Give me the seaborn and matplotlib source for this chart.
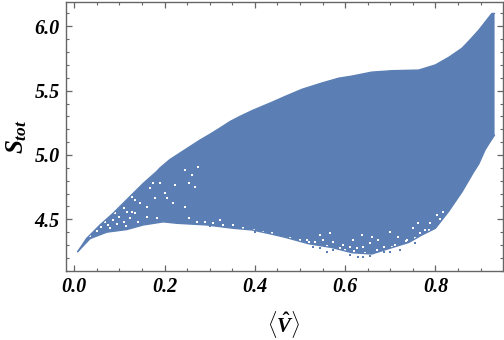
import numpy as np
import matplotlib
matplotlib.use("Agg")
import matplotlib.pyplot as plt
import seaborn as sns
from matplotlib.ticker import MultipleLocator

sns.set_theme(style="ticks")
plt.rcParams['font.family'] = ['Liberation Serif', 'DejaVu Serif']
plt.rcParams['mathtext.fontset'] = 'custom'
plt.rcParams['mathtext.rm'] = 'Liberation Serif:bold'
plt.rcParams['mathtext.it'] = 'Liberation Serif:italic:bold'
plt.rcParams['mathtext.bf'] = 'Liberation Serif:bold'

# upper and lower edge of the region
upper_x = [.0075, .027, .057, .086, .123, .153, .182, .19, .212, .234, .256, .278, .30, .323, .345, .367, .394, .438, .467,
           .504, .549, .586, .615, .659, .704, .763, .80, .83, .859, .878, .896, .925, .931]
upper_y = [4.248, 4.35, 4.456, 4.547, 4.676, 4.78, 4.87, 4.90, 4.965, 5.015, 5.065, 5.115, 5.16, 5.21, 5.26, 5.30, 5.345, 5.41, 5.455,
           5.51, 5.56, 5.597, 5.613, 5.644, 5.655, 5.66, 5.70, 5.76, 5.83, 5.90, 5.97, 6.10, 6.10]
lower_x = [.931, .918, .91, .896, .885, .859, .829, .80, .77, .741, .704, .659, .615, .571, .519, .467,
           .43, .394, .352, .293, .227, .197, .153, .116, .072, .035, .0075]
lower_y = [5.155, 5.085, 5.04, 4.93, 4.87, 4.714, 4.56, 4.43, 4.378, 4.32, 4.28, 4.23, 4.24, 4.28, 4.31, 4.36,
           4.39, 4.417, 4.43, 4.456, 4.469, 4.48, 4.456, 4.42, 4.40, 4.35, 4.248]

# gaps inside the point cloud
gap_x = [.101, .109, .116, .09, .098, .127, .134, .123, .109, .086, .127, .134, .146, .16, .175, .19, .168,
         .201, .179, .205, .219, .245, .223, .245, .26, .267, .253, .275, .16, .183, .253, .271, .068, .075,
         .515, .533, .552, .574, .589, .604, .626, .64, .655, .673, .637, .659, .685, .703, .722, .718, .736,
         .755, .751, .777, .788, .803, .817, .762, .699, .544, .566, .618, .596, .611,
         .29, .308, .323, .33, .352, .374, .397, .419, .437, .459, .478, .5,
         .05, .06, .08, .095, .115, .14, .035,
         .52, .54, .56, .58, .60, .62, .645, .67, .69, .71, .735, .745, .765, .785, .81]
gap_y = [4.611, 4.585, 4.559, 4.547, 4.52, 4.559, 4.547, 4.508, 4.481, 4.495, 4.676, 4.65, 4.624, 4.598, 4.78,
         4.78, 4.741, 4.702, 4.663, 4.663, 4.624, 4.598, 4.767, 4.883, 4.844, 4.753, 4.78, 4.909, 4.52, 4.508,
         4.508, 4.481, 4.481, 4.456,
         4.339, 4.326, 4.339, 4.326, 4.275, 4.248, 4.275, 4.287, 4.313, 4.339, 4.378, 4.365, 4.287, 4.287, 4.275,
         4.365, 4.339, 4.352, 4.43, 4.417, 4.469, 4.533, 4.559, 4.469, 4.404, 4.378, 4.391, 4.339, 4.30, 4.287,
         4.481, 4.469, 4.495, 4.456, 4.456, 4.43, 4.417, 4.404, 4.391, 4.365, 4.352, 4.339,
         4.41, 4.44, 4.43, 4.46, 4.45, 4.48, 4.37,
         4.32, 4.29, 4.295, 4.265, 4.26, 4.25, 4.24, 4.26, 4.265, 4.30, 4.33, 4.31, 4.39, 4.42, 4.50]

# stray points just below the solid edge
stray_x = [.611, .629, .655, .573, .559, .544, .529, .685, .722, .755, .792, .81, .828, .64, .50, .40, .30, .70]
stray_y = [4.223, 4.21, 4.215, 4.26, 4.248, 4.275, 4.287, 4.248, 4.26, 4.315, 4.43, 4.495, 4.572, 4.205, 4.33, 4.405, 4.445, 4.245]

x_ticks = [0.0, 0.2, 0.4, 0.6, 0.8]
y_ticks = [4.5, 5.0, 5.5, 6.0]
blue = "#5b7fb4"
axis_grey = "#666666"

fig = plt.figure(figsize=(5.04, 3.40), dpi=100)
ax = fig.add_axes([65.5 / 504, 1 - 271 / 340, (502.7 - 65.5) / 504, (271 - 1.5) / 340])

ax.fill(upper_x + lower_x, upper_y + lower_y, color=blue, lw=0)
sns.lineplot(x=upper_x, y=upper_y, color=blue, lw=1.0, sort=False, estimator=None, ax=ax)
sns.lineplot(x=lower_x, y=lower_y, color=blue, lw=1.0, sort=False, estimator=None, ax=ax)
sns.scatterplot(x=stray_x, y=stray_y, color=blue, marker="s", s=3, linewidth=0, ax=ax)
sns.scatterplot(x=gap_x, y=gap_y, color="white", marker="s", s=2.4, linewidth=0, ax=ax)

ax.set_xlim(-0.0195, 0.949)
ax.set_ylim(4.098, 6.193)
ax.set_xticks(x_ticks)
ax.set_yticks(y_ticks)
ax.set_xticklabels([f"{v:.1f}" for v in x_ticks], fontsize=14.5, fontweight="bold", fontstyle="italic")
ax.set_yticklabels([f"{v:.1f}" for v in y_ticks], fontsize=14.5, fontweight="bold", fontstyle="italic")
ax.xaxis.set_minor_locator(MultipleLocator(0.05))
ax.yaxis.set_minor_locator(MultipleLocator(0.1))
ax.tick_params(which="major", direction="in", length=4, width=0.9, color=axis_grey,
               top=True, right=True, pad=4, labelcolor="black")
ax.tick_params(which="minor", direction="in", length=2.2, width=0.8, color=axis_grey, top=True, right=True)
for s in ax.spines.values():
    s.set_color(axis_grey)
    s.set_linewidth(1.0)

ax.set_xlabel(r"$\langle\hat{V}\rangle$", fontsize=15, color="black", labelpad=9)
ax.set_ylabel(r"$S_{tot}$", fontsize=18, color="black", labelpad=4)

fig.savefig("out.png", dpi=100)
